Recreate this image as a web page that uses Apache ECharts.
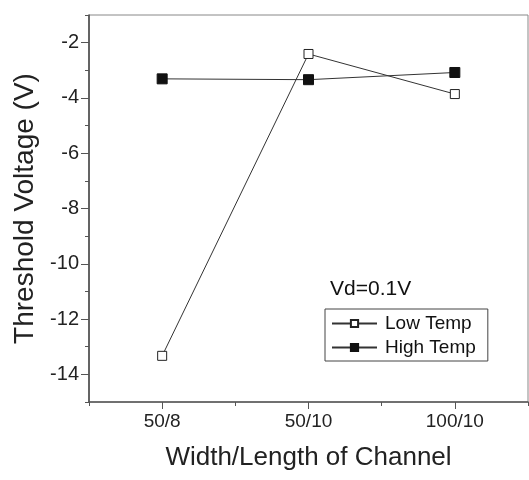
<!DOCTYPE html>
<html>
<head>
<meta charset="utf-8">
<title>Threshold Voltage</title>
<script src="https://cdn.jsdelivr.net/npm/echarts@6/dist/echarts.min.js"></script>
<style>
  html, body { margin: 0; padding: 0; background: #fff; }
  #chart { width: 529px; height: 480px; }
</style>
</head>
<body>
<div id="chart"></div>
<script>
// data
var categories = ['50/8', '50/10', '100/10'];
var lowTemp = [-13.33, -2.41, -3.86];
var highTemp = [-3.31, -3.34, -3.08];
var yMajor = [-14, -12, -10, -8, -6, -4, -2];

var font = "'Liberation Sans', Arial, sans-serif";
var myChart = echarts.init(document.getElementById('chart'));

var option = {
    animation: false,
    backgroundColor: '#fff',
    grid: {
        left: 89, right: 1, top: 15, bottom: 78,
        show: true, borderColor: '#888', borderWidth: 1
    },
    legend: {
        orient: 'vertical',
        left: 325, top: 309,
        padding: [5, 12, 4, 6],
        itemGap: 5,
        itemWidth: 45, itemHeight: 9,
        borderColor: '#444', borderWidth: 1,
        textStyle: { fontFamily: font, fontSize: 19, color: '#111', padding: [0, 0, 0, 3] },
        data: ['Low Temp', 'High Temp']
    },
    graphic: [{
        type: 'text', left: 330, top: 279,
        style: { text: 'Vd=0.1V', font: '21px ' + font, fill: '#111' }
    }],
    xAxis: [{
        type: 'category',
        data: categories,
        boundaryGap: true,
        name: 'Width/Length of Channel',
        nameLocation: 'middle',
        nameGap: 43,
        nameTextStyle: { fontFamily: font, fontSize: 26, color: '#222' },
        axisLine: { lineStyle: { color: '#555', width: 1.5 } },
        axisTick: { show: true, length: 4, lineStyle: { color: '#555' } },
        axisLabel: { margin: 10, fontFamily: font, fontSize: 19, color: '#222' },
        splitLine: { show: false }
    }, {
        type: 'category',
        data: categories,
        position: 'bottom',
        axisLine: { show: false },
        axisTick: { show: true, alignWithLabel: true, length: 7, lineStyle: { color: '#555' } },
        axisLabel: { show: false },
        splitLine: { show: false }
    }],
    yAxis: [{
        type: 'value',
        min: -15, max: -1, interval: 1,
        name: 'Threshold Voltage (V)',
        nameLocation: 'middle',
        nameGap: 45,
        nameTextStyle: { fontFamily: font, fontSize: 28, color: '#222' },
        axisLine: { show: true, lineStyle: { color: '#444', width: 1.5 } },
        axisTick: { show: true, length: 4, lineStyle: { color: '#555' } },
        axisLabel: { customValues: yMajor, margin: 10, fontFamily: font, fontSize: 20, color: '#222' },
        splitLine: { show: false }
    }, {
        type: 'value',
        min: -15, max: -1, interval: 1,
        position: 'left',
        axisLine: { show: false },
        axisTick: { show: true, customValues: yMajor, length: 8, lineStyle: { color: '#555' } },
        axisLabel: { show: false },
        splitLine: { show: false }
    }],
    series: [{
        name: 'Low Temp',
        type: 'line',
        data: lowTemp,
        symbol: 'rect',
        symbolSize: 9,
        lineStyle: { color: '#333', width: 1 },
        itemStyle: { color: '#fff', borderColor: '#222', borderWidth: 1 },
        z: 3
    }, {
        name: 'High Temp',
        type: 'line',
        data: highTemp,
        symbol: 'rect',
        symbolSize: 10,
        lineStyle: { color: '#333', width: 1 },
        itemStyle: { color: '#111', borderColor: '#111', borderWidth: 1 },
        z: 2
    }]
};
myChart.setOption(option);
</script>
</body>
</html>
